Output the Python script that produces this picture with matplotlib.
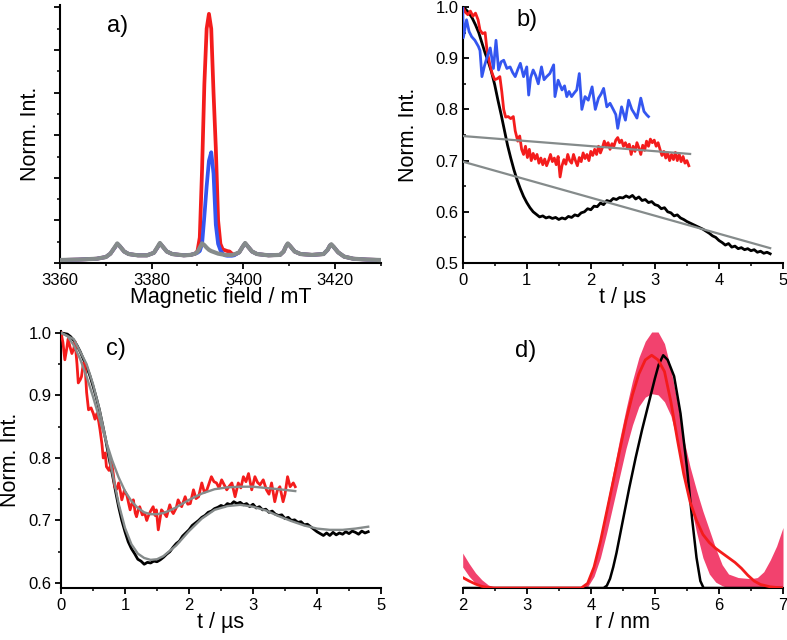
import matplotlib
matplotlib.use("Agg")
import matplotlib.pyplot as plt
from matplotlib.ticker import MultipleLocator, FormatStrFormatter

plt.rcParams['font.family'] = ['Liberation Sans', 'DejaVu Sans']

# ---------------- Panel a: EPR spectra ----------------
field_mT = [3360, 3364, 3368, 3370, 3371, 3372, 3372.5, 3373, 3374, 3375, 3377, 3379,
            3380.5, 3381.3, 3381.8, 3382.3, 3383.3, 3384.5, 3387, 3388.5, 3389.5, 3390,
            3390.5, 3391, 3391.5, 3392, 3392.5, 3393, 3393.5, 3394, 3394.5, 3395, 3395.5,
            3396, 3396.5, 3397, 3397.5, 3398, 3399.1, 3399.9, 3400.4, 3400.9, 3401.9, 3403,
            3405.5, 3408, 3408.8, 3409.3, 3409.7, 3410.2, 3411.2, 3412.5, 3415, 3417.5,
            3418.4, 3418.9, 3419.2, 3419.7, 3420.7, 3422, 3424, 3427, 3430]
spec_gray = [0.07, 0.08, 0.10, 0.14, 0.22, 0.38, 0.46, 0.40, 0.27, 0.21, 0.18, 0.18,
             0.24, 0.38, 0.47, 0.40, 0.27, 0.21, 0.18, 0.19, 0.22, 0.26,
             0.36, 0.46, 0.42, 0.36, 0.31, 0.28, 0.26, 0.24, 0.22, 0.21, 0.20,
             0.19, 0.19, 0.19, 0.19, 0.20, 0.25, 0.39, 0.47, 0.40, 0.27, 0.21,
             0.18, 0.19, 0.27, 0.39, 0.46, 0.40, 0.27, 0.21, 0.19, 0.21,
             0.31, 0.41, 0.44, 0.38, 0.25, 0.15, 0.10, 0.08, 0.07]
spec_blue = [0.07, 0.08, 0.10, 0.14, 0.22, 0.37, 0.45, 0.40, 0.27, 0.21, 0.18, 0.18,
             0.24, 0.37, 0.46, 0.40, 0.27, 0.21, 0.18, 0.19, 0.22, 0.24,
             0.28, 0.45, 1.10, 1.80, 2.40, 2.60, 2.10, 0.90, 0.45, 0.30, 0.22,
             0.18, 0.17, 0.17, 0.17, 0.18, 0.25, 0.39, 0.46, 0.40, 0.27, 0.21,
             0.18, 0.19, 0.27, 0.39, 0.45, 0.40, 0.27, 0.21, 0.19, 0.21,
             0.31, 0.41, 0.43, 0.38, 0.25, 0.15, 0.10, 0.08, 0.07]
spec_red = [0.07, 0.08, 0.10, 0.14, 0.22, 0.37, 0.45, 0.40, 0.27, 0.21, 0.18, 0.18,
            0.24, 0.37, 0.46, 0.40, 0.27, 0.21, 0.18, 0.19, 0.22, 0.28,
            0.60, 2.20, 4.20, 5.50, 5.85, 5.50, 4.00, 2.70, 1.00, 0.45, 0.32,
            0.30, 0.28, 0.27, 0.22, 0.19, 0.25, 0.39, 0.46, 0.40, 0.27, 0.21,
            0.18, 0.19, 0.27, 0.39, 0.45, 0.40, 0.27, 0.21, 0.19, 0.21,
            0.31, 0.41, 0.43, 0.38, 0.25, 0.15, 0.10, 0.08, 0.07]

# ---------------- Panel b: raw traces ----------------
tb_black = [0.00, 0.05, 0.10, 0.15, 0.20, 0.25, 0.30, 0.35, 0.40, 0.45, 0.50, 0.55, 0.60,
            0.65, 0.70, 0.75, 0.80, 0.85, 0.90, 0.95, 1.00, 1.05, 1.10, 1.15, 1.20, 1.25,
            1.30, 1.35, 1.40, 1.45, 1.50, 1.55, 1.60, 1.65, 1.70, 1.75, 1.80, 1.85, 1.90,
            1.95, 2.00, 2.05, 2.10, 2.15, 2.20, 2.25, 2.30, 2.35, 2.40, 2.45, 2.50, 2.55,
            2.60, 2.65, 2.70, 2.75, 2.80, 2.85, 2.90, 2.95, 3.00, 3.05, 3.10, 3.15, 3.20,
            3.25, 3.30, 3.35, 3.40, 3.45, 3.50, 3.55, 3.60, 3.65, 3.70, 3.75, 3.80, 3.85,
            3.90, 3.95, 4.00, 4.05, 4.10, 4.15, 4.20, 4.25, 4.30, 4.35, 4.40, 4.45, 4.50,
            4.55, 4.60, 4.65, 4.70, 4.75, 4.80]
vb_black = [1.000, 0.995, 0.988, 0.978, 0.965, 0.950, 0.930, 0.910, 0.893, 0.873, 0.848, 0.818, 0.790,
            0.760, 0.730, 0.705, 0.682, 0.662, 0.645, 0.630, 0.618, 0.608, 0.600, 0.595, 0.590, 0.592,
            0.588, 0.590, 0.587, 0.589, 0.585, 0.588, 0.586, 0.591, 0.589, 0.594, 0.592, 0.598, 0.600,
            0.606, 0.604, 0.611, 0.610, 0.617, 0.614, 0.622, 0.620, 0.626, 0.624, 0.628, 0.627, 0.631,
            0.628, 0.632, 0.625, 0.629, 0.622, 0.624, 0.618, 0.620, 0.614, 0.612, 0.606, 0.608, 0.600,
            0.598, 0.592, 0.594, 0.588, 0.585, 0.581, 0.578, 0.575, 0.572, 0.569, 0.566, 0.562, 0.558,
            0.553, 0.550, 0.544, 0.540, 0.535, 0.538, 0.531, 0.533, 0.528, 0.530, 0.526, 0.528, 0.524,
            0.526, 0.521, 0.523, 0.519, 0.521, 0.518]

tb_red = [0.00, 0.04, 0.08, 0.12, 0.16, 0.20, 0.24, 0.27, 0.31, 0.35, 0.38, 0.42, 0.46, 0.50,
          0.54, 0.58, 0.61, 0.64, 0.67, 0.71, 0.75, 0.79, 0.82, 0.86, 0.89, 0.92, 0.95, 0.98,
          1.01, 1.04, 1.07, 1.10, 1.13, 1.16, 1.19, 1.22, 1.25, 1.28, 1.31, 1.34, 1.37, 1.40,
          1.43, 1.46, 1.49, 1.52, 1.55, 1.58, 1.61, 1.64, 1.67, 1.70, 1.73, 1.76, 1.79, 1.82,
          1.85, 1.88, 1.91, 1.94, 1.97, 2.00, 2.03, 2.06, 2.09, 2.12, 2.15, 2.18, 2.21, 2.24,
          2.27, 2.30, 2.33, 2.36, 2.39, 2.42, 2.45, 2.48, 2.51, 2.54, 2.57, 2.60, 2.63, 2.66,
          2.69, 2.72, 2.75, 2.78, 2.81, 2.84, 2.87, 2.90, 2.93, 2.96, 2.99, 3.02, 3.05, 3.08,
          3.11, 3.14, 3.17, 3.20, 3.23, 3.26, 3.29, 3.32, 3.35, 3.38, 3.41, 3.44, 3.47, 3.50,
          3.53]
vb_red = [1.000, 0.990, 0.985, 0.992, 0.982, 0.988, 0.975, 0.955, 0.948, 0.950, 0.915, 0.890, 0.870, 0.858,
          0.860, 0.864, 0.835, 0.800, 0.785, 0.786, 0.782, 0.786, 0.758, 0.738, 0.748, 0.722, 0.712, 0.728,
          0.706, 0.722, 0.700, 0.714, 0.703, 0.712, 0.695, 0.705, 0.692, 0.703, 0.690, 0.700, 0.712, 0.698,
          0.705, 0.692, 0.708, 0.668, 0.690, 0.702, 0.693, 0.712, 0.700, 0.695, 0.712, 0.700, 0.690, 0.706,
          0.698, 0.715, 0.704, 0.712, 0.700, 0.718, 0.710, 0.722, 0.712, 0.728, 0.715, 0.725, 0.738, 0.728,
          0.735, 0.722, 0.733, 0.728, 0.740, 0.745, 0.735, 0.740, 0.728, 0.735, 0.725, 0.732, 0.712, 0.728,
          0.718, 0.735, 0.725, 0.712, 0.730, 0.720, 0.738, 0.728, 0.742, 0.735, 0.740, 0.728, 0.735, 0.722,
          0.710, 0.718, 0.705, 0.715, 0.700, 0.712, 0.702, 0.716, 0.700, 0.712, 0.698, 0.708, 0.695, 0.700,
          0.690]

tb_blue = [0.00, 0.01, 0.06, 0.10, 0.14, 0.19, 0.245, 0.27, 0.30, 0.34, 0.375, 0.43, 0.48, 0.52,
           0.56, 0.60, 0.64, 0.69, 0.74, 0.78, 0.82, 0.86, 0.90, 0.95, 1.00, 1.03, 1.06, 1.10,
           1.14, 1.18, 1.23, 1.27, 1.31, 1.36, 1.42, 1.44, 1.49, 1.55, 1.59, 1.625, 1.66, 1.70,
           1.74, 1.78, 1.82, 1.86, 1.91, 1.96, 2.02, 2.07, 2.12, 2.16, 2.20, 2.25, 2.30, 2.35,
           2.39, 2.42, 2.48, 2.54, 2.59, 2.64, 2.68, 2.72, 2.78, 2.83, 2.875, 2.90]
vb_blue = [1.000, 0.940, 0.975, 0.952, 0.942, 0.935, 0.923, 0.915, 0.864, 0.885, 0.900, 0.920, 0.880, 0.935,
           0.877, 0.893, 0.896, 0.880, 0.883, 0.872, 0.864, 0.878, 0.890, 0.864, 0.883, 0.828, 0.862, 0.877,
           0.866, 0.850, 0.883, 0.858, 0.864, 0.870, 0.887, 0.825, 0.857, 0.838, 0.846, 0.825, 0.835, 0.825,
           0.832, 0.838, 0.870, 0.800, 0.825, 0.818, 0.844, 0.800, 0.822, 0.830, 0.841, 0.805, 0.812, 0.800,
           0.790, 0.763, 0.805, 0.779, 0.818, 0.800, 0.792, 0.783, 0.822, 0.796, 0.789, 0.786]

tb_bg1 = [0.0, 3.55]
vb_bg1 = [0.748, 0.713]
tb_bg2 = [0.0, 4.80]
vb_bg2 = [0.698, 0.529]

# ---------------- Panel c: background-corrected traces with fits ----------------
tc_black = tb_black
vc_black = [1.000, 0.999, 0.998, 0.994, 0.988, 0.980, 0.970, 0.958, 0.946, 0.932, 0.915, 0.897, 0.877,
            0.853, 0.828, 0.800, 0.775, 0.748, 0.722, 0.700, 0.682, 0.666, 0.655, 0.647, 0.638, 0.635,
            0.630, 0.633, 0.632, 0.635, 0.634, 0.637, 0.641, 0.646, 0.650, 0.657, 0.663, 0.667, 0.675,
            0.680, 0.685, 0.692, 0.696, 0.700, 0.705, 0.708, 0.713, 0.715, 0.719, 0.721, 0.724, 0.722,
            0.727, 0.725, 0.730, 0.727, 0.729, 0.725, 0.727, 0.722, 0.726, 0.720, 0.722, 0.717, 0.718,
            0.713, 0.715, 0.710, 0.708, 0.709, 0.703, 0.705, 0.700, 0.701, 0.697, 0.698, 0.693, 0.694,
            0.690, 0.686, 0.682, 0.679, 0.676, 0.680, 0.676, 0.681, 0.677, 0.680, 0.678, 0.682, 0.679,
            0.683, 0.681, 0.678, 0.683, 0.680, 0.682]

tc_red = [0.00, 0.03, 0.06, 0.09, 0.11, 0.14, 0.17, 0.20, 0.22, 0.25, 0.27, 0.30, 0.32, 0.35,
          0.375, 0.40, 0.43, 0.47, 0.505, 0.53, 0.56, 0.59, 0.61, 0.64, 0.66, 0.69, 0.71, 0.75,
          0.79, 0.82, 0.84, 0.87, 0.90, 0.93, 0.95, 0.99, 1.03, 1.06, 1.08, 1.11, 1.13, 1.16,
          1.18, 1.21, 1.23, 1.27, 1.31, 1.34, 1.36, 1.40, 1.44, 1.47, 1.49, 1.52, 1.57, 1.61,
          1.65, 1.70, 1.73, 1.755, 1.80, 1.83, 1.885, 1.94, 1.98, 2.02, 2.07, 2.11, 2.15, 2.20,
          2.24, 2.28, 2.35, 2.39, 2.43, 2.47, 2.51, 2.55, 2.59, 2.63, 2.67, 2.72, 2.77, 2.81,
          2.85, 2.89, 2.93, 2.98, 3.03, 3.07, 3.11, 3.16, 3.21, 3.25, 3.29, 3.34, 3.38, 3.42,
          3.47, 3.50, 3.54, 3.58, 3.63, 3.66]
vc_red = [1.000, 0.985, 0.957, 0.975, 0.990, 0.978, 0.967, 0.975, 0.986, 0.950, 0.920, 0.925, 0.930, 0.952,
          0.950, 0.905, 0.877, 0.880, 0.871, 0.862, 0.871, 0.858, 0.845, 0.822, 0.800, 0.808, 0.786, 0.780,
          0.794, 0.772, 0.754, 0.750, 0.760, 0.745, 0.733, 0.748, 0.740, 0.726, 0.717, 0.728, 0.733, 0.712,
          0.706, 0.718, 0.722, 0.709, 0.711, 0.700, 0.706, 0.715, 0.722, 0.708, 0.717, 0.685, 0.717, 0.712,
          0.706, 0.725, 0.715, 0.711, 0.720, 0.733, 0.722, 0.738, 0.726, 0.727, 0.749, 0.735, 0.738, 0.760,
          0.745, 0.749, 0.770, 0.762, 0.760, 0.752, 0.765, 0.757, 0.749, 0.755, 0.760, 0.738, 0.760, 0.752,
          0.770, 0.762, 0.775, 0.749, 0.770, 0.761, 0.757, 0.765, 0.749, 0.742, 0.760, 0.730, 0.748, 0.754,
          0.730, 0.742, 0.770, 0.754, 0.760, 0.754]

tc_fit_black = [0.0, 0.2, 0.4, 0.5, 0.6, 0.7, 0.8, 0.9, 1.0, 1.1, 1.2, 1.3, 1.4, 1.5, 1.6, 1.8,
                2.0, 2.2, 2.4, 2.6, 2.8, 3.0, 3.2, 3.4, 3.6, 3.8, 4.0, 4.2, 4.4, 4.6, 4.8]
vc_fit_black = [1.000, 0.990, 0.950, 0.918, 0.878, 0.830, 0.778, 0.727, 0.688, 0.662, 0.647, 0.640,
                0.637, 0.638, 0.643, 0.660, 0.683, 0.703, 0.717, 0.723, 0.725, 0.722, 0.716, 0.707,
                0.699, 0.692, 0.687, 0.685, 0.685, 0.687, 0.690]

tc_fit_red = [0.0, 0.1, 0.2, 0.3, 0.4, 0.5, 0.6, 0.7, 0.8, 0.9, 1.0, 1.1, 1.2, 1.3, 1.4, 1.5,
              1.6, 1.7, 1.8, 1.9, 2.0, 2.2, 2.4, 2.6, 2.8, 3.0, 3.2, 3.4, 3.66]
vc_fit_red = [1.000, 0.995, 0.980, 0.958, 0.930, 0.898, 0.863, 0.828, 0.796, 0.769, 0.747, 0.731,
              0.720, 0.713, 0.710, 0.710, 0.712, 0.716, 0.721, 0.727, 0.733, 0.743, 0.750, 0.753,
              0.754, 0.754, 0.752, 0.750, 0.747]

# ---------------- Panel d: distance distributions ----------------
r_red = [2.00, 2.10, 2.20, 2.30, 2.40, 2.50, 3.00, 3.50, 3.85, 3.95, 4.05, 4.15, 4.25, 4.35, 4.45,
         4.55, 4.65, 4.75, 4.85, 4.95, 5.05, 5.15, 5.25, 5.35, 5.45, 5.55, 5.65, 5.75, 5.85, 5.95,
         6.05, 6.15, 6.25, 6.35, 6.45, 6.55, 6.65, 6.80, 7.00]
p_red = [0.045, 0.030, 0.017, 0.007, 0.002, 0.0, 0.0, 0.0, 0.0, 0.02, 0.09, 0.20, 0.33, 0.46, 0.59,
         0.72, 0.83, 0.92, 0.98, 1.00, 0.98, 0.93, 0.80, 0.64, 0.49, 0.37, 0.29, 0.23, 0.195, 0.17,
         0.15, 0.13, 0.11, 0.085, 0.055, 0.03, 0.015, 0.005, 0.0]

r_black = [2.00, 4.20, 4.25, 4.30, 4.35, 4.40, 4.50, 4.60, 4.70, 4.80, 4.90, 5.00, 5.06, 5.13,
           5.20, 5.30, 5.40, 5.50, 5.58, 5.65, 5.71, 5.76, 7.00]
p_black = [0.0, 0.0, 0.01, 0.04, 0.09, 0.15, 0.29, 0.43, 0.56, 0.68, 0.79, 0.90, 0.96, 1.00,
           0.98, 0.91, 0.75, 0.52, 0.30, 0.13, 0.03, 0.0, 0.0]

r_band = [2.00, 2.10, 2.20, 2.30, 2.40, 2.50, 2.60, 3.85, 3.95, 4.05, 4.15, 4.25, 4.35, 4.45,
          4.55, 4.65, 4.75, 4.85, 4.95, 5.05, 5.15, 5.25, 5.35, 5.45, 5.55, 5.65, 5.75, 5.85,
          5.95, 6.05, 6.15, 6.30, 6.50, 6.60, 6.70, 6.80, 6.90, 7.00]
band_upper = [0.15, 0.105, 0.065, 0.035, 0.013, 0.003, 0.0, 0.0, 0.02, 0.10, 0.22, 0.36, 0.50, 0.64,
              0.77, 0.89, 0.99, 1.06, 1.10, 1.10, 1.05, 0.94, 0.80, 0.64, 0.52, 0.42, 0.33, 0.25,
              0.17, 0.10, 0.06, 0.045, 0.04, 0.045, 0.07, 0.12, 0.18, 0.26]
band_lower = [0.09, 0.05, 0.02, 0.005, 0.0, 0.0, 0.0, 0.0, 0.005, 0.05, 0.13, 0.24, 0.36, 0.48,
              0.60, 0.70, 0.78, 0.82, 0.835, 0.83, 0.80, 0.74, 0.63, 0.50, 0.37, 0.24, 0.13, 0.06,
              0.025, 0.01, 0.0, 0.0, 0.0, 0.0, 0.0, 0.0, 0.0, 0.0]

# ---------------- Figure ----------------
W, H = 787, 640
fig = plt.figure(figsize=(W / 100, H / 100), dpi=100)


def px_axes(left, top, right, bottom):
    return fig.add_axes([left / W, 1 - bottom / H, (right - left) / W, (bottom - top) / H])


RED = '#f41c1c'
BLUE = '#3456f0'
GRAY = '#858b8b'
BAND = '#f2426e'
TICK_FS = 12
LAB_FS = 15.5
LET_FS = 17


def style(ax, left=True, ydir='out', xdir='out'):
    for s in ['top', 'right']:
        ax.spines[s].set_visible(False)
    ax.spines['left'].set_visible(left)
    for s in ['left', 'bottom']:
        ax.spines[s].set_linewidth(1.5)
    ax.tick_params(axis='x', which='major', direction=xdir, length=4, width=1.3,
                   labelsize=TICK_FS, pad=3)
    ax.tick_params(axis='x', which='minor', direction=xdir, length=2.5, width=1.1)
    ax.tick_params(axis='y', which='major', direction=ydir, length=4, width=1.3,
                   labelsize=TICK_FS, pad=3)
    ax.tick_params(axis='y', which='minor', direction=ydir, length=2.5, width=1.1)


# a
axa = px_axes(60, 5.3, 380.8, 263)
axa.plot(field_mT, spec_red, color=RED, lw=2.7, zorder=2)
axa.plot(field_mT, spec_blue, color=BLUE, lw=2.7, zorder=3)
axa.plot(field_mT, spec_gray, color=GRAY, lw=3.0, zorder=4)
axa.set_xlim(3360, 3430)
axa.set_ylim(0, 6.05)
axa.xaxis.set_major_locator(MultipleLocator(20))
axa.xaxis.set_minor_locator(MultipleLocator(10))
axa.yaxis.set_major_locator(MultipleLocator(1))
axa.yaxis.set_minor_locator(MultipleLocator(0.5))
style(axa)
axa.set_yticklabels([])
axa.set_xlabel('Magnetic field / mT', fontsize=LAB_FS)
axa.set_ylabel('Norm. Int.', fontsize=LAB_FS)
axa.xaxis.set_label_coords(0.5, -0.095)
axa.yaxis.set_label_coords(-0.06, 0.5)
axa.text(0.178, 0.92, 'a)', transform=axa.transAxes, fontsize=LET_FS, ha='center', va='center')

# b
axb = px_axes(462.7, 7, 783, 263)
axb.plot(tb_black, vb_black, color='black', lw=2.0, zorder=2)
axb.plot(tb_red, vb_red, color=RED, lw=2.0, zorder=3)
axb.plot(tb_blue, vb_blue, color=BLUE, lw=2.0, zorder=3)
axb.plot(tb_bg1, vb_bg1, color=GRAY, lw=1.6, zorder=4)
axb.plot(tb_bg2, vb_bg2, color=GRAY, lw=1.6, zorder=4)
axb.set_xlim(0, 5)
axb.set_ylim(0.5, 1.0)
axb.xaxis.set_major_locator(MultipleLocator(1))
axb.xaxis.set_minor_locator(MultipleLocator(0.5))
axb.yaxis.set_major_locator(MultipleLocator(0.1))
axb.yaxis.set_minor_locator(MultipleLocator(0.05))
axb.yaxis.set_major_formatter(FormatStrFormatter('%.1f'))
style(axb, ydir='in')
axb.set_xlabel('t / \u00b5s', fontsize=LAB_FS)
axb.set_ylabel('Norm. Int.', fontsize=LAB_FS)
axb.xaxis.set_label_coords(0.5, -0.095)
axb.yaxis.set_label_coords(-0.135, 0.5)
axb.text(0.20, 0.95, 'b)', transform=axb.transAxes, fontsize=LET_FS, ha='center', va='center')

# c
axc = px_axes(61, 331, 381, 588)
axc.plot(tc_black, vc_black, color='black', lw=2.0, zorder=2)
axc.plot(tc_red, vc_red, color=RED, lw=2.0, zorder=3)
axc.plot(tc_fit_black, vc_fit_black, color=GRAY, lw=1.7, zorder=4)
axc.plot(tc_fit_red, vc_fit_red, color=GRAY, lw=1.7, zorder=4)
axc.set_xlim(0, 5)
axc.set_ylim(0.592, 1.003)
axc.xaxis.set_major_locator(MultipleLocator(1))
axc.xaxis.set_minor_locator(MultipleLocator(0.5))
axc.yaxis.set_major_locator(MultipleLocator(0.1))
axc.yaxis.set_minor_locator(MultipleLocator(0.05))
axc.yaxis.set_major_formatter(FormatStrFormatter('%.1f'))
style(axc)
axc.set_xlabel('t / \u00b5s', fontsize=LAB_FS)
axc.set_ylabel('Norm. Int.', fontsize=LAB_FS)
axc.xaxis.set_label_coords(0.5, -0.095)
axc.yaxis.set_label_coords(-0.125, 0.5)
axc.text(0.172, 0.93, 'c)', transform=axc.transAxes, fontsize=LET_FS, ha='center', va='center')

# d
axd = px_axes(462.7, 332, 783, 588)
axd.fill_between(r_band, band_lower, band_upper, color=BAND, lw=0, zorder=1)
axd.plot(r_black, p_black, color='black', lw=1.8, zorder=2)
axd.plot(r_red, p_red, color=RED, lw=2.0, zorder=3)
axd.set_xlim(2, 7)
axd.set_ylim(0, 1.1)
axd.xaxis.set_major_locator(MultipleLocator(1))
axd.xaxis.set_minor_locator(MultipleLocator(0.5))
style(axd, left=False)
axd.set_yticks([])
axd.set_xlabel('r / nm', fontsize=LAB_FS)
axd.xaxis.set_label_coords(0.5, -0.095)
axd.text(0.198, 0.925, 'd)', transform=axd.transAxes, fontsize=LET_FS, ha='center', va='center')

fig.savefig('out.png', dpi=100)
